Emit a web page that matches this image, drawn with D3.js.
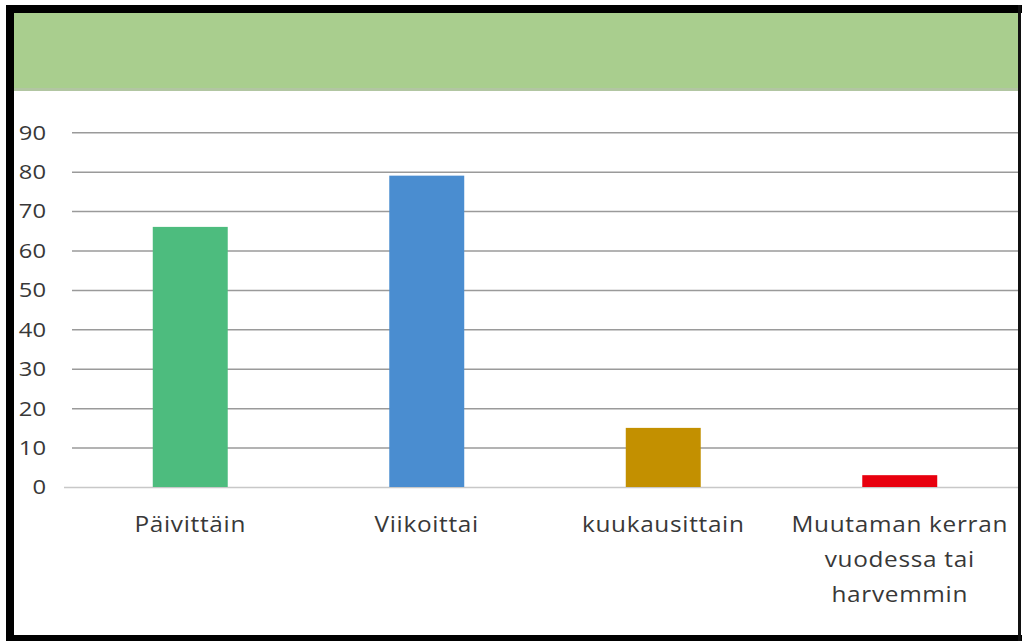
<!DOCTYPE html>
<html>
<head>
<meta charset="utf-8">
<script src="https://cdn.jsdelivr.net/npm/d3@7/dist/d3.min.js"></script>
<style>
  html, body { margin: 0; padding: 0; background: #fff; }
  svg { display: block; }
  text { font-family: "Open Sans", "Noto Sans", sans-serif; fill: #383838; }
</style>
</head>
<body>
<svg id="chart" width="1022" height="641"></svg>
<script>
// Chart data
const categories = ["Päivittäin", "Viikoittai", "kuukausittain", "Muutaman kerran vuodessa tai harvemmin"];
const categoryLines = [["Päivittäin"], ["Viikoittai"], ["kuukausittain"], ["Muutaman kerran", "vuodessa tai", "harvemmin"]];
const values = [66, 79, 15, 3];
const barColors = ["#4dbc7e", "#4a8dd0", "#c39000", "#e8000e"];
const yTicks = [0, 10, 20, 30, 40, 50, 60, 70, 80, 90];

// Layout: the labels are set in a wide face, so every line is stretched horizontally
const textStretch = 1.16;

const svg = d3.select("#chart");
const W = 1022, H = 641;

// Frame: heavy black edge and green title band
svg.append("rect").attr("x", 6).attr("y", 5).attr("width", W - 6).attr("height", 8).attr("fill", "#000");
svg.append("rect").attr("x", 6).attr("y", 5).attr("width", 8).attr("height", H - 5).attr("fill", "#000");
svg.append("rect").attr("x", 6).attr("y", 635).attr("width", W - 6).attr("height", 6).attr("fill", "#000");
svg.append("rect").attr("x", 1018).attr("y", 5).attr("width", 3).attr("height", H - 5).attr("fill", "#111");
svg.append("rect").attr("x", 14).attr("y", 13).attr("width", 1004).attr("height", 78).attr("fill", "#a9ce8e");
svg.append("rect").attr("x", 14).attr("y", 88).attr("width", 1004).attr("height", 3).attr("fill", "#b2c6a2");

// Plot area
const plot = { left: 72, right: 1018, top: 132.3, bottom: 487 };

const x = d3.scaleBand()
  .domain(categories)
  .range([plot.left, plot.right])
  .paddingInner(0.683)
  .paddingOuter(0.3415);

const y = d3.scaleLinear()
  .domain([0, 90])
  .range([plot.bottom, plot.top]);

// Horizontal gridlines
const yAxis = d3.axisLeft(y)
  .tickValues(yTicks)
  .tickSize(-(plot.right - plot.left))
  .tickFormat("");
const gridG = svg.append("g").attr("transform", `translate(${plot.left},0)`).call(yAxis);
gridG.select(".domain").remove();
gridG.selectAll(".tick line")
  .attr("stroke", d => d === 0 ? "#c8c8c8" : "#9a9a9a")
  .attr("stroke-width", 1.5);
gridG.selectAll(".tick").filter(d => d === 0).select("line")
  .attr("x1", -8);

// Stretch a text node horizontally about its anchor point
function stretch(sel, ax) {
  sel.attr("transform", `translate(${ax},0) scale(${textStretch},1) translate(${-ax},0)`);
}

// Y tick labels
svg.append("g").selectAll("text")
  .data(yTicks)
  .join("text")
  .attr("x", 46)
  .attr("y", d => y(d))
  .attr("dy", "0.36em")
  .attr("text-anchor", "end")
  .style("font-size", "20.5px")
  .text(d => d)
  .call(stretch, 46);

// Bars
svg.append("g").selectAll("rect")
  .data(values)
  .join("rect")
  .attr("x", (d, i) => x(categories[i]))
  .attr("width", x.bandwidth())
  .attr("y", d => y(d))
  .attr("height", d => y(0) - y(d))
  .attr("fill", (d, i) => barColors[i]);

// Category labels, wrapped into centred lines
const labelG = svg.append("g");
categoryLines.forEach((lines, i) => {
  const cx = x(categories[i]) + x.bandwidth() / 2;
  lines.forEach((line, j) => {
    labelG.append("text")
      .attr("x", cx)
      .attr("y", 532 + j * 35)
      .attr("text-anchor", "middle")
      .style("font-size", "21px")
      .style("letter-spacing", "0.6px")
      .text(line)
      .call(stretch, cx);
  });
});
</script>
</body>
</html>
